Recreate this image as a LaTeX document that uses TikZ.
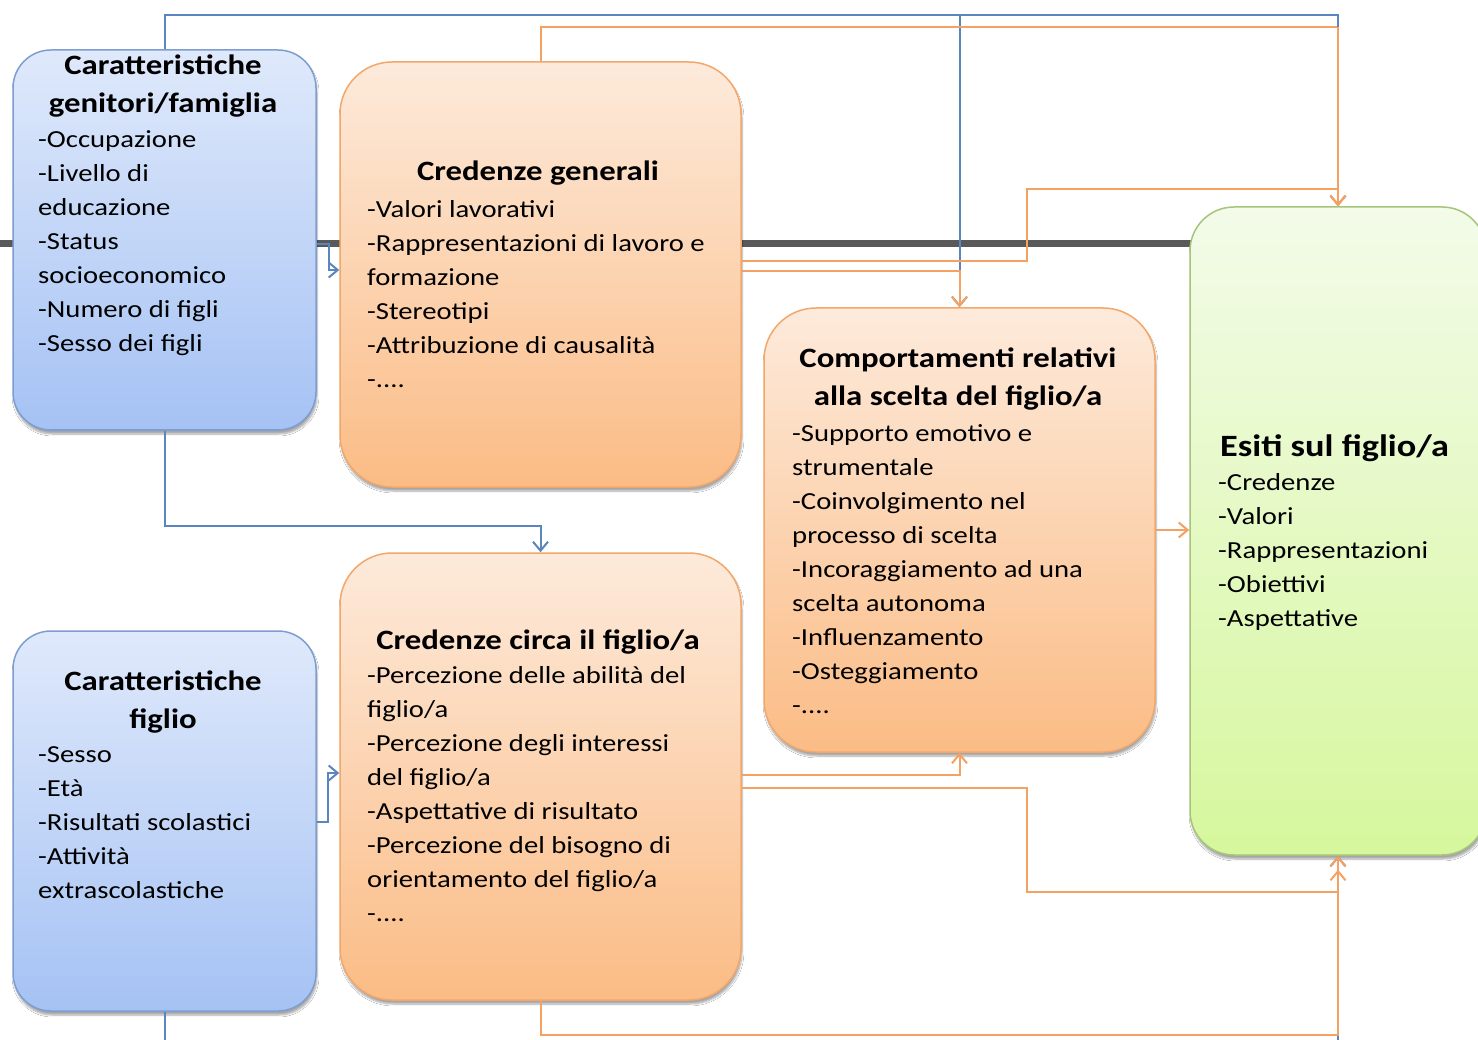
\documentclass[tikz,border=0pt]{standalone}
\usepackage{fontspec}
\setmainfont{Carlito}[FakeStretch=1.17]
\usetikzlibrary{arrows.meta,shadows.blur,calc}
\definecolor{bluetop}{HTML}{DFE9FB}
\definecolor{bluebot}{HTML}{A5C2F4}
\definecolor{blueedge}{HTML}{7E9ED2}
\definecolor{orangetop}{HTML}{FDEADB}
\definecolor{orangebot}{HTML}{FBBC85}
\definecolor{orangeedge}{HTML}{F2A76B}
\definecolor{greentop}{HTML}{F3FBE9}
\definecolor{greenbot}{HTML}{D6F79D}
\definecolor{greenedge}{HTML}{A6C47C}
\definecolor{conblue}{HTML}{5A85BF}
\definecolor{conorange}{HTML}{F4A263}
\definecolor{bargray}{HTML}{595959}
\newcommand\titf{\fontsize{28}{38}\selectfont\bfseries}
\newcommand\bodyf{\fontsize{24.5}{34}\selectfont}
\begin{document}
\begin{tikzpicture}[x=1pt,y=-1pt,
  boxbase/.style={line width=1.5pt, inner sep=0pt,
    blur shadow={shadow blur steps=6, shadow xshift=1pt, shadow yshift=-4pt, shadow opacity=35}},
  bluebox/.style={boxbase, draw=blueedge, top color=bluetop, bottom color=bluebot, rounded corners=38pt},
  orangebox/.style={boxbase, draw=orangeedge, top color=orangetop, bottom color=orangebot, rounded corners=52pt},
  greenbox/.style={boxbase, draw=greenedge, top color=greentop, bottom color=greenbot, rounded corners=44pt},
  ttl/.style={inner sep=0pt, align=center, font=\titf},
  bdy/.style={inner sep=0pt, align=left, font=\bodyf},
  cb/.style={draw=conblue, line width=2pt, -{Straight Barb[length=9pt,width=15pt]}},
  co/.style={draw=conorange, line width=2pt, -{Straight Barb[length=9pt,width=15pt]}},
  cbn/.style={draw=conblue, line width=2pt},
  bar/.style={draw=bargray, line width=7pt}
]
\useasboundingbox (0,0) rectangle (1478,1040);
\clip (0,0) rectangle (1478,1040);
\fill[white] (0,0) rectangle (1478,1040);

% gray horizontal bar behind boxes
\coordinate (gl) at (0,244);
\coordinate (gr) at (1200,244);
\draw[bar] (gl) -- (gr);

% boxes
\node[bluebox, minimum width=303pt, minimum height=380pt] (A) at (164.5,240) {};
\node[orangebox, minimum width=401pt, minimum height=425pt] (B) at (540.5,274.5) {};
\node[orangebox, minimum width=391pt, minimum height=444pt] (C) at (959.5,530) {};
\node[bluebox, minimum width=303pt, minimum height=380pt] (D) at (164.5,821) {};
\node[orangebox, minimum width=401pt, minimum height=447pt] (E) at (540.5,776.5) {};
\node[greenbox, minimum width=296pt, minimum height=648pt] (F) at (1338,531) {};

% texts (anchored at the baseline of their last line)
\node[ttl, anchor=base] (At) at (163,113) {Caratteristiche\\genitori/famiglia};
\node[bdy, anchor=base west] (Ab) at (38,352) {-Occupazione\\-Livello di\\educazione\\-Status\\socioeconomico\\-Numero di figli\\-Sesso dei figli};

\node[ttl, anchor=base] (Bt) at (538,181) {Credenze generali};
\node[bdy, anchor=base west] (Bb) at (367,388) {-Valori lavorativi\\-Rappresentazioni di lavoro e\\formazione\\-Stereotipi\\-Attribuzione di causalità\\-....};

\node[ttl, anchor=base] (Ct) at (958,406) {Comportamenti relativi\\alla scelta del figlio/a};
\node[bdy, anchor=base west] (Cb) at (792,713) {-Supporto emotivo e\\strumentale\\-Coinvolgimento nel\\processo di scelta\\-Incoraggiamento ad una\\scelta autonoma\\-Influenzamento\\-Osteggiamento\\-....};

\node[ttl, anchor=base] (Dt) at (163,728) {Caratteristiche\\figlio};
\node[bdy, anchor=base west] (Db) at (38,898) {-Sesso\\-Età\\-Risultati scolastici\\-Attività\\extrascolastiche};

\node[ttl, anchor=base] (Et) at (538,649) {Credenze circa il figlio/a};
\node[bdy, anchor=base west] (Eb) at (367,921) {-Percezione delle abilità del\\figlio/a\\-Percezione degli interessi\\del figlio/a\\-Aspettative di risultato\\-Percezione del bisogno di\\orientamento del figlio/a\\-....};

\node[inner sep=0pt, font=\fontsize{31}{38}\selectfont\bfseries, anchor=base west] (Ft) at (1220,456) {Esiti sul figlio/a};
\node[bdy, anchor=base west] (Fb) at (1218,626) {-Credenze\\-Valori\\-Rappresentazioni\\-Obiettivi\\-Aspettative};

% helper coordinates
\coordinate (yb) at (0,15);
\coordinate (yo) at (0,27);
\coordinate (yae) at (0,526);
\coordinate (j1) at (1027,189);
\coordinate (j2) at (1027,892);
\coordinate (ybot) at (0,1060);
\coordinate (yeo) at (0,1035);

% blue connectors
\draw[cb] (A.north) |- (F.north |- yb) -- (F.north);
\draw[cb] (A.north) |- (C.north |- yb) -- (C.north);
\draw[cb] (A.south) |- (E.north |- yae) -- (E.north);
\draw[cb] ([yshift=-4pt]A.east) -- ++(12,0) |- ([yshift=4.5pt]B.west);
\draw[cb] ([yshift=-1pt]D.east) -- ++(11,0) |- ([yshift=3.5pt]E.west);
\draw[cb] (D.south) |- (F.south |- ybot) -- (F.south);

% orange connectors
\draw[co] (B.north) |- (F.north |- yo) -- (F.north);
\draw[co] ([yshift=13.5pt]B.east) -| (j1) -| (F.north);
\draw[co] ([yshift=3.5pt]B.east) -| (C.north);
\draw[co] (E.south) |- (F.south |- yeo) -- ([yshift=-14pt]F.south);
\draw[co] ([yshift=1.5pt]E.east) -| (C.south);
\draw[co] ([yshift=-11.5pt]E.east) -| (j2) -| (F.south);
\draw[co] (C.east) -- (C.east -| F.west);
% blue vertical over orange from A (visible top stub)
\draw[cbn] (F.north |- yb) -- (F.north |- yo);
\end{tikzpicture}
\end{document}
